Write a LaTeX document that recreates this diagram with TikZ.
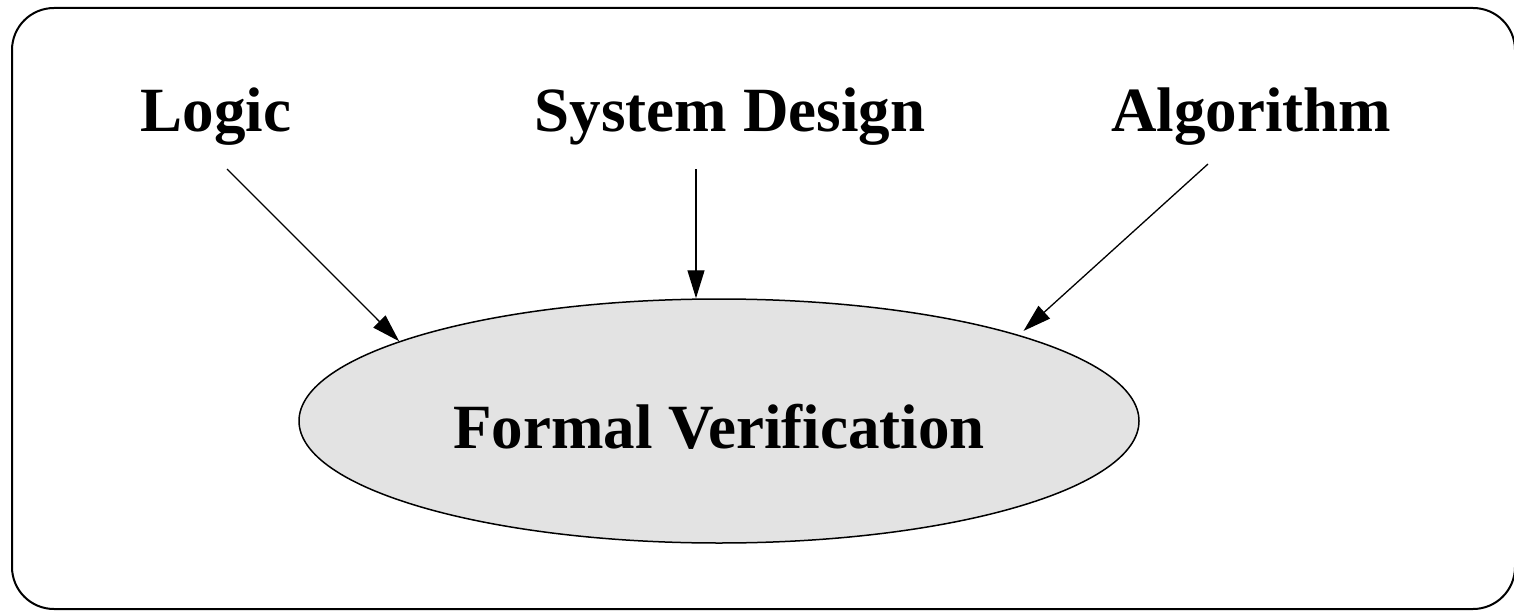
\documentclass[tikz,border=0pt]{standalone}
\usepackage{fontspec}
\setmainfont{Liberation Serif}
\usetikzlibrary{shapes.geometric,arrows.meta}
\definecolor{fvfill}{RGB}{227,227,227}
\begin{document}
\begin{tikzpicture}[x=0.5pt,y=-0.5pt,
  topic/.style={font=\fontsize{31.5}{36}\selectfont\bfseries, inner sep=0pt, anchor=base},
  central/.style={ellipse, draw, line width=0.75pt, fill=fvfill,
    minimum width=420pt, minimum height=122pt, inner sep=0pt,
    font=\fontsize{31.5}{36}\selectfont\bfseries},
  arr/.style={line width=0.65pt, -{Triangle[length=14pt,width=8.5pt]}},
  frame/.style={line width=1pt, rounded corners=21pt}]
\useasboundingbox (0,0) rectangle (1514,610);
% outer rounded frame, cut at the page edge
\begin{scope}
\clip (0,0) rectangle (1514,610);
\draw[frame] (12,8) rectangle (1515,609);
\end{scope}

\node[topic] (logic) at (216,132) {Logic};
\node[topic] (sd) at (730,132) {System Design};
\node[topic] (algo) at (1251,132) {Algorithm};

\node[central] (fv) at (719,421) {\raisebox{-2.5pt}[\height][0pt]{Formal Verification}};

\coordinate (logic-out) at ([xshift=5.5pt,yshift=-18.5pt]logic.base);
\coordinate (sd-out) at ([xshift=-17pt,yshift=-18.5pt]sd.base);
\coordinate (algo-out) at ([xshift=-21.5pt,yshift=-16pt]algo.base);

\draw[arr] (logic-out) -- (fv.166);
\draw[arr] (sd-out) -- (fv.north -| sd-out);
\draw[arr, shorten >=3pt] (algo-out) -- (fv.16);
\end{tikzpicture}
\end{document}
